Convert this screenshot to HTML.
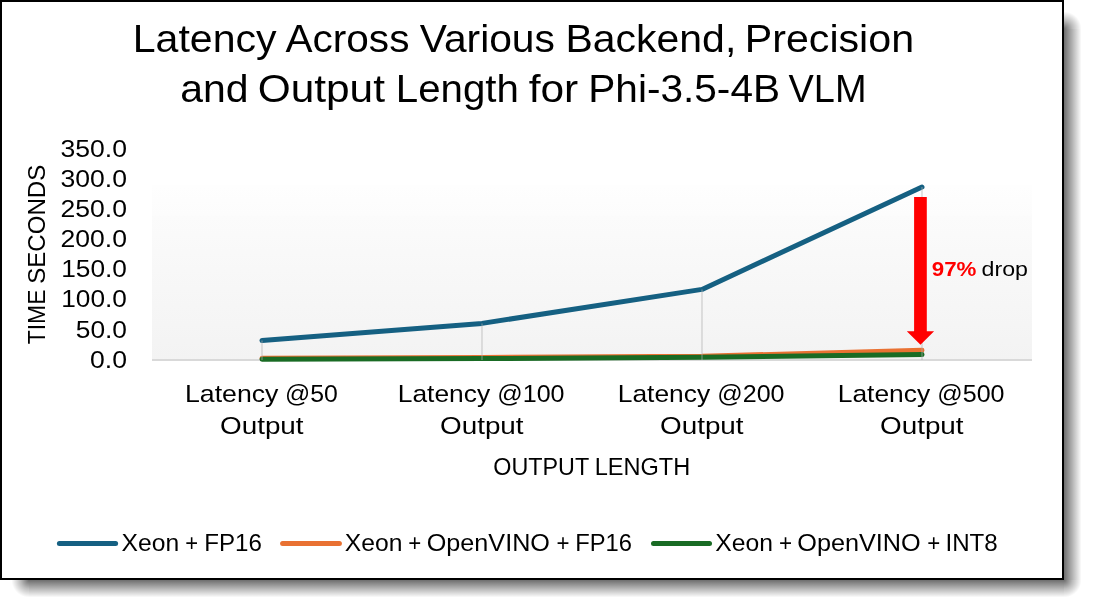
<!DOCTYPE html>
<html lang="en">
<head>
<meta charset="utf-8">
<title>Latency Across Various Backend, Precision and Output Length for Phi-3.5-4B VLM</title>
<style>
  html, body { margin: 0; padding: 0; background: #ffffff; }
  body { width: 1094px; height: 610px; overflow: hidden; position: relative; }
  svg { display: block; position: absolute; left: 0; top: 0; }
  text { font-family: "Liberation Sans", sans-serif; fill: #000000; }
</style>
</head>
<body>
<svg width="1094" height="610" viewBox="0 0 1094 610">
  <defs>
    <linearGradient id="shR" x1="0" y1="0" x2="1" y2="0">
      <stop offset="0" stop-color="#000" stop-opacity="0.57"/>
      <stop offset="1" stop-color="#000" stop-opacity="0"/>
    </linearGradient>
    <linearGradient id="shB" x1="0" y1="0" x2="0" y2="1">
      <stop offset="0" stop-color="#000" stop-opacity="0.57"/>
      <stop offset="1" stop-color="#000" stop-opacity="0"/>
    </linearGradient>
    <radialGradient id="shTR" gradientUnits="userSpaceOnUse" cx="1064" cy="29" r="17.5">
      <stop offset="0" stop-color="#000" stop-opacity="0.57"/>
      <stop offset="0.5" stop-color="#000" stop-opacity="0.255"/>
      <stop offset="1" stop-color="#000" stop-opacity="0"/>
    </radialGradient>
    <radialGradient id="shBR" gradientUnits="userSpaceOnUse" cx="1064" cy="580" r="17.5">
      <stop offset="0" stop-color="#000" stop-opacity="0.57"/>
      <stop offset="0.5" stop-color="#000" stop-opacity="0.255"/>
      <stop offset="1" stop-color="#000" stop-opacity="0"/>
    </radialGradient>
    <radialGradient id="shBL" gradientUnits="userSpaceOnUse" cx="29" cy="580" r="17.5">
      <stop offset="0" stop-color="#000" stop-opacity="0.57"/>
      <stop offset="0.5" stop-color="#000" stop-opacity="0.255"/>
      <stop offset="1" stop-color="#000" stop-opacity="0"/>
    </radialGradient>
    <linearGradient id="plotBg" x1="0" y1="0" x2="0" y2="1">
      <stop offset="0" stop-color="#ffffff"/>
      <stop offset="0.165" stop-color="#ffffff"/>
      <stop offset="0.17" stop-color="#fefefe"/>
      <stop offset="0.31" stop-color="#fcfcfc"/>
      <stop offset="0.315" stop-color="#fbfbfb"/>
      <stop offset="1" stop-color="#f3f3f3"/>
    </linearGradient>
  </defs>

  <!-- page background -->
  <rect x="0" y="0" width="1094" height="610" fill="#ffffff"/>

  <!-- drop shadow -->
  <rect x="1064" y="29" width="17.5" height="551" fill="url(#shR)"/>
  <rect x="29" y="580" width="1035" height="17.5" fill="url(#shB)"/>
  <rect x="1064" y="11" width="18" height="18" fill="url(#shTR)"/>
  <rect x="1064" y="580" width="18" height="18" fill="url(#shBR)"/>
  <rect x="11" y="580" width="18" height="18" fill="url(#shBL)"/>

  <!-- framed chart -->
  <rect x="1" y="1" width="1062" height="578" fill="#ffffff" stroke="#000000" stroke-width="2"/>

  <!-- plot area -->
  <rect x="152" y="150" width="880" height="210" fill="url(#plotBg)"/>
  <line x1="152" y1="360" x2="1032" y2="360" stroke="#d9d9d9" stroke-width="2"/>

  <!-- series -->
  <g fill="none" stroke-width="5" stroke-linecap="round" stroke-linejoin="round">
    <polyline stroke="#156082" points="262,340.5 482,323.4 702,289.4 922,187"/>
    <polyline stroke="#E97132" points="262,358.2 482,357.4 702,356.3 922,350.2"/>
    <polyline stroke="#196B24" points="262,359.3 482,358.6 702,357.3 922,354.6"/>
  </g>

  <!-- drop lines -->
  <g stroke="#b0b0b0" stroke-width="1.4" stroke-opacity="0.5" fill="none">
    <line x1="262" y1="340.5" x2="262" y2="360"/>
    <line x1="482" y1="323.4" x2="482" y2="360"/>
    <line x1="702" y1="289.4" x2="702" y2="360"/>
    <line x1="922" y1="187" x2="922" y2="360"/>
  </g>

  <!-- red arrow -->
  <polygon fill="#ff0000" points="914.1,197.1 926.8,197.1 926.8,331.2 934.1,331.2 920.5,344.8 906.8,331.2 914.1,331.2"/>

  <!-- legend -->
  <g fill="none" stroke-width="5" stroke-linecap="round">
    <line x1="59.4" y1="543.5" x2="115.6" y2="543.5" stroke="#156082"/>
    <line x1="282.6" y1="543.5" x2="339.4" y2="543.5" stroke="#E97132"/>
    <line x1="653.5" y1="543.4" x2="709.5" y2="543.4" stroke="#196B24"/>
  </g>
  <!-- text -->
  <text id="t1" font-size="38.3"><tspan x="132.75" y="51.9" textLength="143.87" lengthAdjust="spacingAndGlyphs">Latency</tspan> <tspan x="285.50" y="51.9" textLength="123.93" lengthAdjust="spacingAndGlyphs">Across</tspan> <tspan x="419.75" y="51.9" textLength="135.16" lengthAdjust="spacingAndGlyphs">Various</tspan> <tspan x="565.50" y="51.9" textLength="170.77" lengthAdjust="spacingAndGlyphs">Backend,</tspan> <tspan x="744.75" y="51.9" textLength="169.32" lengthAdjust="spacingAndGlyphs">Precision</tspan></text>
  <text id="t2" font-size="38.3"><tspan x="180.25" y="101.7" textLength="68.33" lengthAdjust="spacingAndGlyphs">and</tspan> <tspan x="257.75" y="101.7" textLength="127.19" lengthAdjust="spacingAndGlyphs">Output</tspan> <tspan x="395.75" y="101.7" textLength="123.06" lengthAdjust="spacingAndGlyphs">Length</tspan> <tspan x="528.75" y="101.7" textLength="49.51" lengthAdjust="spacingAndGlyphs">for</tspan> <tspan x="588.25" y="101.7" textLength="191.80" lengthAdjust="spacingAndGlyphs">Phi-3.5-4B</tspan> <tspan x="788.50" y="101.7" textLength="77.99" lengthAdjust="spacingAndGlyphs">VLM</tspan></text>
  <text id="drop" font-size="21.0"><tspan x="931.75" y="275.8" textLength="44.66" lengthAdjust="spacingAndGlyphs" font-weight="bold" fill="#ff0000">97%</tspan> <tspan x="981.50" y="275.8" textLength="46.45" lengthAdjust="spacingAndGlyphs" font-size="20.3">drop</tspan></text>
  <text id="y0" font-size="24.2"><tspan x="60.50" y="156.6" textLength="66.51" lengthAdjust="spacingAndGlyphs">350.0</tspan></text>
  <text id="y1" font-size="24.2"><tspan x="60.50" y="186.68" textLength="66.51" lengthAdjust="spacingAndGlyphs">300.0</tspan></text>
  <text id="y2" font-size="24.2"><tspan x="60.50" y="216.76" textLength="66.51" lengthAdjust="spacingAndGlyphs">250.0</tspan></text>
  <text id="y3" font-size="24.2"><tspan x="60.50" y="246.84" textLength="66.51" lengthAdjust="spacingAndGlyphs">200.0</tspan></text>
  <text id="y4" font-size="24.2"><tspan x="61.25" y="276.92" textLength="65.71" lengthAdjust="spacingAndGlyphs">150.0</tspan></text>
  <text id="y5" font-size="24.2"><tspan x="61.25" y="307.0" textLength="65.70" lengthAdjust="spacingAndGlyphs">100.0</tspan></text>
  <text id="y6" font-size="24.2"><tspan x="75.75" y="338.08" textLength="51.26" lengthAdjust="spacingAndGlyphs">50.0</tspan></text>
  <text id="y7" font-size="24.2"><tspan x="90.00" y="368.16" textLength="36.98" lengthAdjust="spacingAndGlyphs">0.0</tspan></text>
  <text id="xa0" font-size="24.2"><tspan x="185.00" y="402.0" textLength="93.40" lengthAdjust="spacingAndGlyphs">Latency</tspan> <tspan x="285.00" y="402.0" textLength="52.81" lengthAdjust="spacingAndGlyphs">@50</tspan></text>
  <text id="xb0" font-size="24.2"><tspan x="220.00" y="433.7" textLength="83.60" lengthAdjust="spacingAndGlyphs">Output</tspan></text>
  <text id="xa1" font-size="24.2"><tspan x="397.75" y="402.0" textLength="92.43" lengthAdjust="spacingAndGlyphs">Latency</tspan> <tspan x="497.25" y="402.0" textLength="67.29" lengthAdjust="spacingAndGlyphs">@100</tspan></text>
  <text id="xb1" font-size="24.2"><tspan x="440.00" y="433.7" textLength="83.60" lengthAdjust="spacingAndGlyphs">Output</tspan></text>
  <text id="xa2" font-size="24.2"><tspan x="617.75" y="402.0" textLength="92.43" lengthAdjust="spacingAndGlyphs">Latency</tspan> <tspan x="717.25" y="402.0" textLength="67.29" lengthAdjust="spacingAndGlyphs">@200</tspan></text>
  <text id="xb2" font-size="24.2"><tspan x="660.00" y="433.7" textLength="83.60" lengthAdjust="spacingAndGlyphs">Output</tspan></text>
  <text id="xa3" font-size="24.2"><tspan x="837.75" y="402.0" textLength="92.43" lengthAdjust="spacingAndGlyphs">Latency</tspan> <tspan x="937.25" y="402.0" textLength="67.29" lengthAdjust="spacingAndGlyphs">@500</tspan></text>
  <text id="xb3" font-size="24.2"><tspan x="880.00" y="433.7" textLength="83.60" lengthAdjust="spacingAndGlyphs">Output</tspan></text>
  <text id="xtitle" font-size="24.2"><tspan x="493.25" y="475.2" textLength="95.55" lengthAdjust="spacingAndGlyphs">OUTPUT</tspan> <tspan x="594.75" y="475.2" textLength="95.49" lengthAdjust="spacingAndGlyphs">LENGTH</tspan></text>
  <text id="lg1" font-size="24.2"><tspan x="121.50" y="551.1" textLength="57.63" lengthAdjust="spacingAndGlyphs">Xeon</tspan> <tspan x="185.25" y="551.1" textLength="12.83" lengthAdjust="spacingAndGlyphs">+</tspan> <tspan x="204.25" y="551.1" textLength="57.64" lengthAdjust="spacingAndGlyphs">FP16</tspan></text>
  <text id="lg2" font-size="24.2"><tspan x="344.75" y="551.1" textLength="57.62" lengthAdjust="spacingAndGlyphs">Xeon</tspan> <tspan x="408.25" y="551.1" textLength="13.01" lengthAdjust="spacingAndGlyphs">+</tspan> <tspan x="426.75" y="551.1" textLength="123.21" lengthAdjust="spacingAndGlyphs">OpenVINO</tspan> <tspan x="556.50" y="551.1" textLength="13.01" lengthAdjust="spacingAndGlyphs">+</tspan> <tspan x="575.25" y="551.1" textLength="56.75" lengthAdjust="spacingAndGlyphs">FP16</tspan></text>
  <text id="lg3" font-size="24.2"><tspan x="715.25" y="551.1" textLength="57.67" lengthAdjust="spacingAndGlyphs">Xeon</tspan> <tspan x="779.00" y="551.1" textLength="13.11" lengthAdjust="spacingAndGlyphs">+</tspan> <tspan x="797.25" y="551.1" textLength="123.47" lengthAdjust="spacingAndGlyphs">OpenVINO</tspan> <tspan x="927.25" y="551.1" textLength="13.01" lengthAdjust="spacingAndGlyphs">+</tspan> <tspan x="945.50" y="551.1" textLength="52.28" lengthAdjust="spacingAndGlyphs">INT8</tspan></text>
  <text id="ytitle" font-size="24.2" transform="translate(44.7,343.8) rotate(-90)"><tspan x="-0.45" y="0" textLength="54.66" lengthAdjust="spacingAndGlyphs">TIME</tspan> <tspan x="60.05" y="0" textLength="118.95" lengthAdjust="spacingAndGlyphs">SECONDS</tspan></text>
</svg>
</body>
</html>
